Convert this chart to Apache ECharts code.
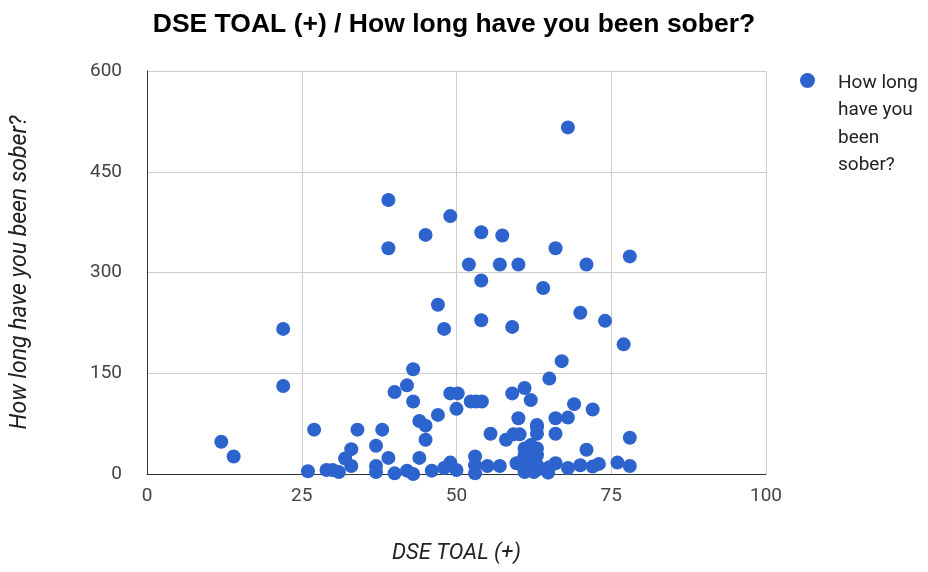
<!DOCTYPE html>
<html>
<head>
<meta charset="utf-8">
<script src="https://cdn.jsdelivr.net/npm/echarts@6/dist/echarts.min.js"></script>
<style>html,body{margin:0;padding:0;background:#fff;}#c{width:928px;height:572px;}</style>
</head>
<body>
<div id="c"></div>
<script>
const chartTitle = "DSE TOAL (+) / How long have you been sober?";
const xAxisTitle = "DSE TOAL (+)";
const yAxisTitle = "How long have you been sober?";
const seriesName = "How long have you been sober?";
const legendLines = ["How long", "have you", "been", "sober?"];
const xTicks = [0, 25, 50, 75, 100];
const yTicks = [0, 150, 300, 450, 600];
const dseTotal = [
  68, 39, 49, 54, 45, 57.4, 39, 66, 78, 52, 57, 60, 71, 54, 64, 47, 70, 54, 74, 59,
  22, 48, 77, 67, 43, 65, 22, 42, 61, 40, 49, 50.2, 59, 43, 52.3, 53.2, 54.1, 62, 69, 50,
  72, 47, 60, 66, 68, 44, 45, 63, 27, 34, 38, 55.5, 59.2, 60.2, 63, 66, 78, 58, 45, 12,
  62, 37, 33, 61, 63, 71, 61, 63, 14, 39, 44, 32, 53, 49, 60, 62, 66, 76, 73, 53,
  55, 57, 70, 72, 78, 33, 37, 48, 68, 65, 63.5, 46, 50, 42, 29, 30, 26, 31, 37, 40,
  43, 53, 61, 62.5, 63, 64.8, 61, 63, 59.7
];
const soberTime = [
  516, 408, 384, 360, 356, 355, 336, 336, 324, 312, 312, 312, 312, 288, 277, 252, 240, 229, 228, 219,
  216, 216, 193, 168, 156, 142, 131, 132, 128, 122, 120, 120, 120, 108, 108, 108, 108, 110, 104, 97,
  96, 88, 83, 83, 84, 79, 72, 70, 66, 66, 66, 60, 59, 59, 60, 60, 54, 51, 51, 48,
  43, 42, 37, 38, 38, 36, 28, 28, 26, 24, 24, 23, 26, 17, 16, 16, 16, 17, 15, 13,
  12, 12, 13, 11, 12, 12, 12, 9, 9, 10, 8, 5, 6, 5, 6, 6, 4, 3, 3, 1,
  0, 1, 3, 3, 13, 2, 6, 73, 16
];
const points = dseTotal.map((x, i) => [x, soberTime[i]]);

const chart = echarts.init(document.getElementById('c'), null, {renderer: 'canvas'});
chart.setOption({
  animation: false,
  title: {
    text: chartTitle,
    left: 449, top: 6, textAlign: 'center',
    textStyle: {fontFamily: 'Liberation Sans, Arial', fontWeight: 'bold', fontSize: 26.5, color: '#000'}
  },
  legend: {
    left: 795, top: 64, orient: 'vertical',
    icon: 'path://M7.5 0 M7.5 110 M15 11.5 A7.5 7.5 0 1 1 0 11.5 A7.5 7.5 0 1 1 15 11.5 Z',
    itemWidth: 15, itemHeight: 110,
    formatter: () => legendLines.join('\n'),
    textStyle: {fontFamily: 'Roboto, Arial', fontSize: 19, color: '#222', lineHeight: 27.5, padding: [0, 0, 0, 18]}
  },
  grid: {left: 147, top: 71, width: 619, height: 403},
  xAxis: {
    type: 'value', min: xTicks[0], max: xTicks[xTicks.length - 1], interval: 25,
    name: xAxisTitle, nameLocation: 'middle', nameGap: 68,
    nameTextStyle: {fontFamily: 'Roboto, Arial', fontStyle: 'italic', fontSize: 22, color: '#222'},
    axisLine: {show: true, lineStyle: {color: '#333', width: 1}},
    axisTick: {show: false},
    axisLabel: {fontFamily: 'Roboto, Arial', fontSize: 19, color: '#444', margin: 13},
    splitLine: {show: true, lineStyle: {color: '#ccc', width: 1}}
  },
  yAxis: {
    type: 'value', min: yTicks[0], max: yTicks[yTicks.length - 1], interval: 150,
    name: yAxisTitle, nameLocation: 'middle', nameGap: 115,
    nameTextStyle: {fontFamily: 'Roboto, Arial', fontStyle: 'italic', fontSize: 23, color: '#222'},
    axisLine: {show: true, lineStyle: {color: '#333', width: 1}},
    axisTick: {show: false},
    axisLabel: {fontFamily: 'Roboto, Arial', fontSize: 19, color: '#444', margin: 25},
    splitLine: {show: true, lineStyle: {color: '#ccc', width: 1}}
  },
  series: [{
    name: seriesName,
    type: 'scatter',
    symbolSize: 14,
    itemStyle: {color: '#2d63cc', opacity: 1},
    data: points
  }]
});
</script>
</body>
</html>
